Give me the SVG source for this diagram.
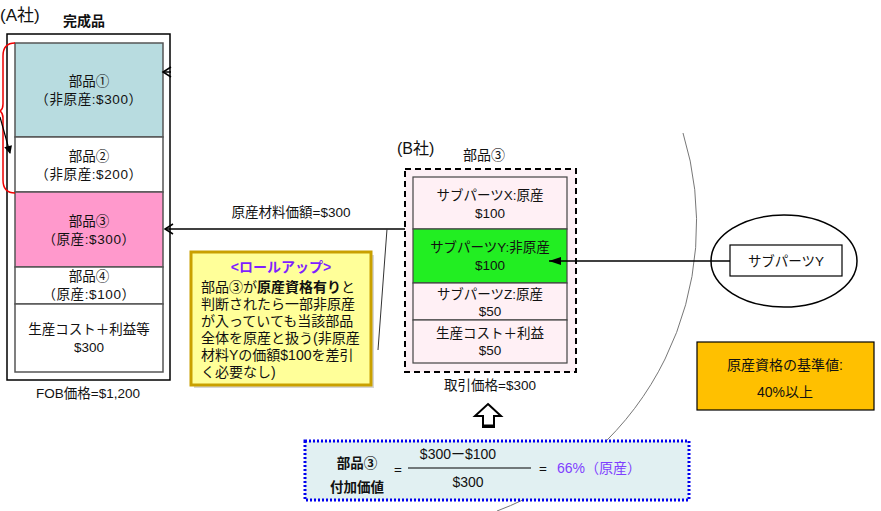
<svg xmlns="http://www.w3.org/2000/svg" width="881" height="511" viewBox="0 0 881 511">
<defs>
<style>
text{font-family:"Liberation Sans","Noto Sans CJK JP",sans-serif;font-size:13.5px;fill:#111;}
.c{text-anchor:middle;}
.blk{stroke:#555;stroke-width:1.5;}
.sub{stroke:#444;stroke-width:1.2;fill:#fff0f5;}
.ln{stroke:#000;stroke-width:1.5;fill:none;}
.p{letter-spacing:0.6px;}
</style>
<marker id="open" markerWidth="12" markerHeight="12" refX="10" refY="6" orient="auto" markerUnits="userSpaceOnUse">
<path d="M2,1 L10,6 L2,11" fill="none" stroke="#000" stroke-width="1.5"/>
</marker>
<marker id="solid" markerWidth="14" markerHeight="10" refX="13" refY="5" orient="auto" markerUnits="userSpaceOnUse">
<path d="M1,1 L13,5 L1,9 Z" fill="#000"/>
</marker>
<marker id="small" markerWidth="10" markerHeight="10" refX="8" refY="5" orient="auto" markerUnits="userSpaceOnUse">
<path d="M1,1 L9,5 L1,9 Z" fill="#000"/>
</marker>
</defs>
<rect width="881" height="511" fill="#fff"/>

<!-- big arc -->
<path d="M683,133 A307,307 0 0 1 497,511" fill="none" stroke="#777" stroke-width="1"/>

<g id="companyA">
<text x="0" y="21" style="font-size:17px">(A社)</text>
<text x="63" y="26" style="font-size:14px;font-weight:bold">完成品</text>
<rect x="7" y="34" width="163" height="346" fill="#fff" stroke="#000" stroke-width="1.5"/>
</g>
<g id="partA1">
<rect class="blk" x="15" y="43" width="148" height="94" fill="#b8dce0"/>
<text class="c" x="89" y="86">部品①</text>
<text class="c p" x="89" y="104">（非原産:$300）</text>
</g>
<g id="partA2">
<rect class="blk" x="15" y="137" width="148" height="55" fill="#fff"/>
<text class="c" x="89" y="161">部品②</text>
<text class="c p" x="89" y="179">（非原産:$200）</text>
</g>
<g id="partA3">
<rect class="blk" x="15" y="192" width="148" height="75" fill="#ff99cc"/>
<text class="c" x="89" y="226">部品③</text>
<text class="c p" x="89" y="244">（原産:$300）</text>
</g>
<g id="partA4">
<rect class="blk" x="15" y="267" width="148" height="37" fill="#fff"/>
<text class="c" x="89" y="281">部品④</text>
<text class="c p" x="89" y="299">（原産:$100）</text>
</g>
<g id="partA5">
<rect class="blk" x="15" y="304" width="148" height="68" fill="#fff"/>
<text class="c" x="89" y="334">生産コスト＋利益等</text>
<text class="c" x="89" y="352">$300</text>
</g>
<text class="c" x="88" y="398">FOB価格=$1,200</text>

<g id="bracket">
<path d="M15,43 Q3,43 3,56 L3,104 Q3,109 0,111 Q3,113 3,118 L3,180 Q3,193 15,193" fill="none" stroke="#e00" stroke-width="1.5"/>
</g>

<g id="callout">
<rect x="194" y="255" width="180" height="133" fill="#999" opacity="0.4"/>
<rect x="191" y="252" width="180" height="133" fill="#ffff99" stroke="#c9a000" stroke-width="3"/>
<text class="c" x="281" y="272" style="font-size:14px;font-weight:bold;fill:#7f1fff">&lt;ロールアップ&gt;</text>
<text x="201" y="292" style="font-size:14px">部品③が<tspan font-weight="bold">原産資格有り</tspan>と</text>
<text x="201" y="309" style="font-size:14px">判断されたら一部非原産</text>
<text x="201" y="326" style="font-size:14px">が入っていても当該部品</text>
<text x="201" y="343" style="font-size:14px">全体を原産と扱う(非原産</text>
<text x="201" y="360" style="font-size:14px">材料Yの価額$100を差引</text>
<text x="201" y="377" style="font-size:14px">く必要なし)</text>
</g>

<g id="companyB">
<text x="397" y="154" style="font-size:16px">(B社)</text>
<text x="463" y="160" style="font-size:14px">部品③</text>
<rect x="405" y="169" width="171" height="203" fill="#fdf0f5" stroke="#000" stroke-width="2" stroke-dasharray="6,4"/>
<text class="c" x="490" y="390">取引価格=$300</text>
</g>
<g id="subX">
<rect class="sub" x="413" y="177" width="154" height="52"/>
<text class="c" x="490" y="200">サブパーツX:原産</text>
<text class="c" x="490" y="218">$100</text>
</g>
<g id="subY">
<rect class="sub" x="413" y="229" width="154" height="54" style="fill:#22ee22"/>
<text class="c" x="490" y="252">サブパーツY:非原産</text>
<text class="c" x="490" y="270">$100</text>
</g>
<g id="subZ">
<rect class="sub" x="413" y="283" width="154" height="37"/>
<text class="c" x="490" y="299">サブパーツZ:原産</text>
<text class="c" x="490" y="316">$50</text>
</g>
<g id="subCost">
<rect class="sub" x="413" y="320" width="154" height="43"/>
<text class="c" x="490" y="338">生産コスト＋利益</text>
<text class="c" x="490" y="355">$50</text>
</g>

<g id="subPartY">
<ellipse cx="784" cy="261" rx="73" ry="46" fill="none" stroke="#000" stroke-width="1.5"/>
<rect x="730" y="245" width="112" height="31" fill="#fff" stroke="#000" stroke-width="1.2"/>
<text class="c" x="786" y="266">サブパーツY</text>
</g>

<g id="criteria">
<rect x="697" y="342" width="177" height="68" fill="#ffc000" stroke="#000" stroke-width="1.2"/>
<text class="c" x="785" y="370" style="font-size:14px">原産資格の基準値:</text>
<text class="c" x="785" y="397" style="font-size:14px">40%以上</text>
</g>

<g id="valueAdded">
<rect x="305" y="441" width="384" height="59" fill="#e1f0f2" stroke="#0000ee" stroke-width="3" stroke-dasharray="2,2"/>
<text class="c" x="357" y="468" style="font-weight:bold">部品③</text>
<text class="c" x="357" y="492" style="font-weight:bold">付加価値</text>
<text class="c" x="398" y="474">=</text>
<text class="c" x="458" y="459" style="font-size:14px">$300ー$100</text>
<line x1="408" y1="468" x2="531" y2="468" stroke="#000" stroke-width="1"/>
<text class="c" x="468" y="487" style="font-size:14px">$300</text>
<text class="c" x="543" y="473">=</text>
<text x="557" y="473" style="fill:#7f3fff;font-size:14px">66%（原産）</text>
</g>

<g id="upArrow">
<path d="M488,404 L501,416 L494,416 L494,427 L483,427 L483,416 L475,416 Z" fill="#fff" stroke="#000" stroke-width="2"/>
<line x1="483" y1="426" x2="494" y2="426" stroke="#000" stroke-width="3"/>
</g>

<g id="connectors">
<line class="ln" x1="405" y1="229" x2="165" y2="229" marker-end="url(#open)"/>
<text class="c" x="291" y="217">原産材料価額=$300</text>
<line x1="387" y1="229" x2="378" y2="350" stroke="#333" stroke-width="1"/>
<line class="ln" x1="730" y1="261" x2="549" y2="261" marker-end="url(#solid)"/>
<line class="ln" x1="171" y1="72" x2="163" y2="72" marker-end="url(#open)"/>
<line x1="0" y1="117" x2="10" y2="153" stroke="#000" stroke-width="1.2" marker-end="url(#small)"/>
</g>
</svg>
